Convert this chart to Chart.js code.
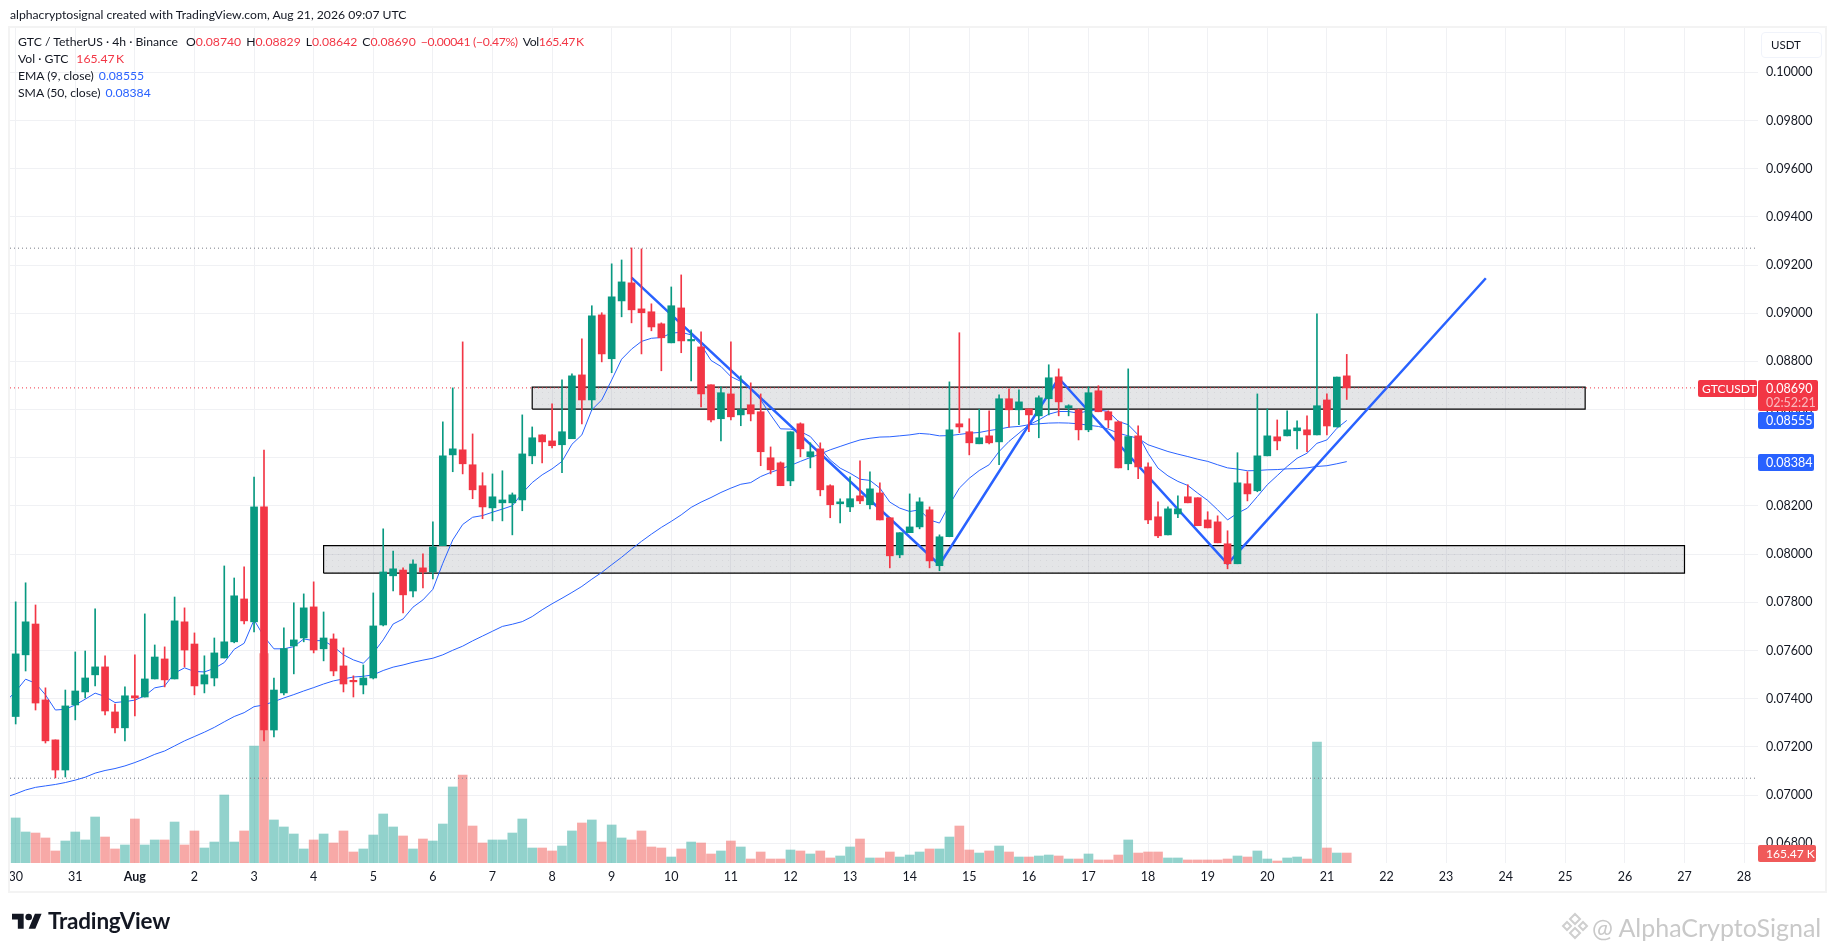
<!DOCTYPE html>
<html>
<head>
<meta charset="utf-8">
<title>GTC / TetherUS</title>
<script src="https://cdn.jsdelivr.net/npm/chart.js@4/dist/chart.umd.min.js"></script>
<style>
    html, body { margin: 0; background: #fff; overflow: hidden; }
    body { width: 1835px; height: 951px; position: relative; font-family: Lato, "Noto Sans", sans-serif; color: #131722; }
    canvas { position: absolute; left: 0; top: 0; }
    .frame { position: absolute; left: 8px; top: 26px; width: 1815px; height: 863px; border: 2px solid #f3f3f3; }
    .title { position: absolute; left: 10px; top: 7px; font-size: 12.2px; white-space: nowrap; }
    .legend { position: absolute; left: 18px; font-size: 12.2px; white-space: nowrap; }
    .legend span { margin-left: 5px; }
    .legend span.first { margin-left: 8px; }
    .legend span.tight { letter-spacing: -0.35px; }
    .legend b { font-weight: normal; color: #f23645; }
    .legend i { font-style: normal; color: #2962ff; }
    .usdt { position: absolute; left: 1761px; top: 32px; width: 59px; height: 24px; border: 1px solid #f0f3fa; border-radius: 4px; font-size: 11.5px; line-height: 24px; text-indent: 9px; }
    .logo { position: absolute; left: 12px; top: 910px; }
    .brand { position: absolute; left: 48px; top: 907px; font-size: 22.5px; font-weight: 700; letter-spacing: -0.2px; }
    .mark { position: absolute; left: 1561px; top: 912px; }
    .signal { position: absolute; left: 1592px; top: 912px; font-size: 25px; color: #c9c9c9; white-space: nowrap; }
</style>
</head>
<body>
<canvas id="chart" width="1835" height="951"></canvas>
<div class="frame"></div>
<div class="title">alphacryptosignal created with TradingView.com, Aug 21, 2026 09:07 UTC</div>
<div class="legend" style="top:34px">GTC / TetherUS · 4h · Binance<span class="first">O<b>0.08740</b></span><span>H<b>0.08829</b></span><span>L<b>0.08642</b></span><span>C<b>0.08690</b></span><span class="tight"><b>−0.00041 (−0.47%)</b></span><span class="tight">Vol<b>165.47&#8201;K</b></span></div>
<div class="legend" style="top:51px">Vol · GTC<span class="first"><b>165.47&#8201;K</b></span></div>
<div class="legend" style="top:68px">EMA (9, close)<span><i>0.08555</i></span></div>
<div class="legend" style="top:85px">SMA (50, close)<span><i>0.08384</i></span></div>
<div class="usdt">USDT</div>
<svg class="logo" width="30" height="24" viewBox="0 0 36 28"><path fill="#131722" d="M14 22H7V11H0V4h14v18zM28 22h-8l7.5-18h8L28 22z"/><circle fill="#131722" cx="20" cy="8" r="4"/></svg>
<div class="brand">TradingView</div>
<svg class="mark" width="28" height="28" viewBox="0 0 28 28" fill="none" stroke="#cfcfcf" stroke-width="2"><path d="M14 2l5 5-5 5-5-5zM6 10l4 4-4 4-4-4zM22 10l4 4-4 4-4-4zM14 16l5 5-5 5-5-5z"/></svg>
<div class="signal">@ AlphaCryptoSignal</div>

<script>
// candles, 4h bars from Jul 30
const opens = [0.07326,0.07582,0.07710,0.07395,0.07229,0.07104,0.07374,0.07428,0.07499,0.07532,0.07345,0.07279,0.07412,0.07407,0.07482,0.07565,0.07482,0.07719,0.07627,0.07461,0.07486,0.07569,0.07636,0.07814,0.07719,0.08196,0.07270,0.07424,0.07619,0.07652,0.07781,0.07607,0.07648,0.07536,0.07474,0.07457,0.07486,0.07706,0.07910,0.07934,0.07847,0.07943,0.07926,0.08035,0.08412,0.08433,0.08371,0.08284,0.08192,0.08213,0.08213,0.08225,0.08408,0.08495,0.08470,0.08454,0.08479,0.08744,0.08640,0.08993,0.08811,0.09051,0.09126,0.09018,0.09006,0.08956,0.08877,0.09022,0.08885,0.08860,0.08703,0.08562,0.08665,0.08578,0.08620,0.08591,0.08400,0.08379,0.08304,0.08541,0.08404,0.08437,0.08284,0.08209,0.08196,0.08242,0.08205,0.08254,0.08151,0.07997,0.08089,0.08113,0.08184,0.07952,0.08072,0.08541,0.08508,0.08458,0.08491,0.08466,0.08645,0.08599,0.08603,0.08574,0.08645,0.08736,0.08607,0.08599,0.08516,0.08678,0.08591,0.08549,0.08375,0.08491,0.08362,0.08155,0.08080,0.08167,0.08238,0.08234,0.08142,0.08134,0.08043,0.07960,0.08292,0.08263,0.08408,0.08487,0.08491,0.08512,0.08516,0.08495,0.08640,0.08528,0.08740];
const highs = [0.07802,0.07881,0.07789,0.07445,0.07229,0.07436,0.07594,0.07598,0.07773,0.07578,0.07378,0.07449,0.07582,0.07752,0.07623,0.07615,0.07822,0.07777,0.07673,0.07578,0.07652,0.07951,0.07901,0.07947,0.08320,0.08432,0.07486,0.07694,0.07798,0.07835,0.07885,0.07760,0.07669,0.07611,0.07495,0.07540,0.07839,0.08105,0.08013,0.07943,0.07976,0.08001,0.08134,0.08549,0.08690,0.08881,0.08499,0.08338,0.08333,0.08346,0.08254,0.08578,0.08528,0.08495,0.08624,0.08723,0.08748,0.08894,0.09031,0.09002,0.09205,0.09221,0.09271,0.09267,0.09039,0.08960,0.09109,0.09159,0.08931,0.08923,0.08703,0.08694,0.08881,0.08740,0.08711,0.08665,0.08445,0.08383,0.08508,0.08545,0.08462,0.08462,0.08288,0.08230,0.08321,0.08387,0.08342,0.08296,0.08151,0.08089,0.08250,0.08234,0.08196,0.08080,0.08715,0.08919,0.08562,0.08602,0.08595,0.08661,0.08686,0.08682,0.08603,0.08657,0.08786,0.08769,0.08620,0.08603,0.08694,0.08699,0.08595,0.08553,0.08769,0.08533,0.08379,0.08217,0.08196,0.08242,0.08288,0.08234,0.08176,0.08159,0.08097,0.08421,0.08342,0.08665,0.08603,0.08557,0.08595,0.08553,0.08574,0.08997,0.08665,0.08735,0.08829];
const lows = [0.07295,0.07515,0.07353,0.07216,0.07071,0.07075,0.07312,0.07403,0.07453,0.07333,0.07258,0.07225,0.07329,0.07407,0.07482,0.07449,0.07482,0.07532,0.07416,0.07424,0.07453,0.07569,0.07632,0.07710,0.07677,0.07225,0.07241,0.07416,0.07503,0.07636,0.07590,0.07557,0.07495,0.07428,0.07407,0.07420,0.07482,0.07702,0.07847,0.07756,0.07822,0.07860,0.07897,0.08035,0.08342,0.08333,0.08230,0.08147,0.08138,0.08138,0.08080,0.08180,0.08375,0.08379,0.08441,0.08338,0.08479,0.08541,0.08599,0.08798,0.08753,0.08985,0.08960,0.08831,0.08927,0.08761,0.08877,0.08836,0.08719,0.08611,0.08549,0.08470,0.08557,0.08533,0.08553,0.08367,0.08333,0.08284,0.08284,0.08404,0.08358,0.08242,0.08151,0.08130,0.08176,0.08209,0.08188,0.08142,0.07943,0.07985,0.08089,0.08105,0.07943,0.07931,0.08072,0.08504,0.08412,0.08458,0.08458,0.08371,0.08527,0.08537,0.08508,0.08483,0.08578,0.08574,0.08574,0.08474,0.08508,0.08591,0.08524,0.08358,0.08350,0.08313,0.08126,0.08068,0.08080,0.08151,0.08213,0.08118,0.08109,0.08047,0.07939,0.07960,0.08221,0.08259,0.08408,0.08433,0.08491,0.08437,0.08425,0.08495,0.08495,0.08528,0.08642];
const closes = [0.07586,0.07719,0.07382,0.07225,0.07104,0.07370,0.07432,0.07486,0.07532,0.07349,0.07279,0.07412,0.07403,0.07482,0.07573,0.07478,0.07723,0.07602,0.07453,0.07499,0.07590,0.07636,0.07827,0.07723,0.08196,0.07270,0.07436,0.07608,0.07644,0.07777,0.07602,0.07652,0.07515,0.07461,0.07470,0.07486,0.07702,0.07926,0.07939,0.07831,0.07959,0.07926,0.08030,0.08408,0.08437,0.08375,0.08267,0.08196,0.08238,0.08225,0.08246,0.08416,0.08483,0.08466,0.08450,0.08508,0.08740,0.08640,0.08989,0.08831,0.09068,0.09130,0.09014,0.09002,0.08943,0.08898,0.09031,0.08885,0.08889,0.08665,0.08557,0.08670,0.08570,0.08599,0.08582,0.08425,0.08350,0.08284,0.08508,0.08437,0.08425,0.08267,0.08205,0.08217,0.08230,0.08221,0.08271,0.08142,0.07993,0.08089,0.08113,0.08217,0.07972,0.08072,0.08516,0.08528,0.08462,0.08483,0.08462,0.08645,0.08599,0.08632,0.08578,0.08649,0.08732,0.08632,0.08616,0.08516,0.08670,0.08591,0.08557,0.08358,0.08488,0.08362,0.08142,0.08076,0.08188,0.08188,0.08213,0.08118,0.08109,0.08047,0.07960,0.08296,0.08250,0.08408,0.08491,0.08470,0.08516,0.08524,0.08495,0.08616,0.08532,0.08735,0.08690];
// volume in thousands of GTC
const volumes = [745,513,496,414,199,364,513,381,761,430,232,298,728,298,381,381,678,298,530,248,347,1125,347,530,1936,3464,712,596,480,232,381,480,331,530,182,232,463,811,596,447,232,397,364,645,1258,1456,612,331,381,381,496,728,248,248,199,281,530,662,712,347,629,414,381,530,265,248,99,232,347,331,149,199,364,265,66,182,66,66,215,199,149,199,83,116,265,397,83,83,182,99,132,182,232,232,430,612,215,165,199,281,182,99,99,116,132,116,66,66,149,50,50,132,381,165,182,182,83,83,50,50,50,50,66,116,99,199,66,33,83,99,66,2002,248,165,165];
// moving averages, first value sits one bar before the first candle
const emaValues = [0.07388,0.07430,0.07481,0.07464,0.07416,0.07353,0.07356,0.07374,0.07398,0.07423,0.07409,0.07384,0.07388,0.07394,0.07412,0.07445,0.07453,0.07506,0.07528,0.07513,0.07511,0.07526,0.07550,0.07605,0.07630,0.07727,0.07658,0.07607,0.07607,0.07616,0.07648,0.07641,0.07641,0.07616,0.07582,0.07561,0.07547,0.07589,0.07644,0.07710,0.07731,0.07780,0.07810,0.07854,0.07962,0.08059,0.08123,0.08153,0.08160,0.08174,0.08187,0.08201,0.08253,0.08297,0.08329,0.08354,0.08385,0.08456,0.08495,0.08599,0.08640,0.08723,0.08809,0.08851,0.08883,0.08896,0.08899,0.08917,0.08921,0.08910,0.08869,0.08804,0.08779,0.08737,0.08717,0.08689,0.08640,0.08578,0.08520,0.08519,0.08509,0.08488,0.08440,0.08391,0.08357,0.08336,0.08311,0.08306,0.08274,0.08216,0.08191,0.08177,0.08184,0.08142,0.08129,0.08205,0.08274,0.08315,0.08347,0.08371,0.08426,0.08468,0.08502,0.08537,0.08557,0.08581,0.08592,0.08592,0.08585,0.08595,0.08599,0.08592,0.08551,0.08537,0.08495,0.08419,0.08357,0.08325,0.08302,0.08285,0.08253,0.08223,0.08184,0.08142,0.08170,0.08191,0.08239,0.08288,0.08326,0.08364,0.08398,0.08419,0.08460,0.08474,0.08522,0.08555];
const smaValues = [0.06991,0.07005,0.07021,0.07032,0.07038,0.07044,0.07052,0.07062,0.07074,0.07091,0.07102,0.07110,0.07121,0.07135,0.07151,0.07169,0.07183,0.07204,0.07225,0.07243,0.07261,0.07281,0.07304,0.07326,0.07342,0.07367,0.07374,0.07388,0.07403,0.07417,0.07432,0.07446,0.07461,0.07474,0.07482,0.07490,0.07493,0.07499,0.07517,0.07531,0.07540,0.07551,0.07560,0.07568,0.07582,0.07601,0.07618,0.07640,0.07660,0.07680,0.07700,0.07709,0.07720,0.07741,0.07769,0.07794,0.07817,0.07841,0.07866,0.07896,0.07924,0.07956,0.07987,0.08021,0.08053,0.08083,0.08111,0.08136,0.08163,0.08194,0.08216,0.08235,0.08256,0.08274,0.08290,0.08297,0.08322,0.08339,0.08354,0.08368,0.08385,0.08401,0.08416,0.08433,0.08447,0.08461,0.08474,0.08481,0.08486,0.08487,0.08491,0.08495,0.08501,0.08498,0.08491,0.08492,0.08497,0.08502,0.08505,0.08513,0.08519,0.08527,0.08530,0.08537,0.08541,0.08544,0.08545,0.08544,0.08541,0.08535,0.08530,0.08519,0.08502,0.08491,0.08481,0.08454,0.08440,0.08426,0.08415,0.08405,0.08394,0.08385,0.08371,0.08358,0.08353,0.08346,0.08347,0.08350,0.08351,0.08354,0.08355,0.08358,0.08364,0.08367,0.08375,0.08384];
const dayLabels = ['30','31','Aug','2','3','4','5','6','7','8','9','10','11','12','13','14','15','16','17','18','19','20','21','22','23','24','25','26','27','28'];

// hand drawn objects, bar index / price
const upperBoxX = [52, 158];
const upperBoxY = [0.08602, 0.08693];
const lowerBoxX = [31, 168];
const lowerBoxY = [0.07921, 0.08035];
const trendX = [62, 93, 105, 122, 148];
const trendY = [0.09148, 0.07956, 0.08730, 0.07960, 0.09145];
const rangeHigh = 0.09270;
const rangeLow = 0.07070;
const lastPrice = 0.08690;
const lastEma = 0.08555;
const lastSma = 0.08384;
const lastVolume = 165.47;
const hiddenTick = 0.084; // TradingView drops this label under the SMA tag

const xMin = -0.57, xMax = 175.4;
const green = '#089981', red = '#f23645', blue = '#2962ff';
const isUp = i => closes[i] >= opens[i];
const candleColors = opens.map((o, i) => isUp(i) ? green : red);
const volumeColors = opens.map((o, i) => isUp(i) ? 'rgba(38,166,154,0.5)' : 'rgba(239,83,80,0.5)');

// light dotted texture of the rectangles
function boxPattern() {
    const c = document.createElement('canvas');
    c.width = 6;
    c.height = 6;
    const p = c.getContext('2d');
    p.fillStyle = 'rgba(120,123,134,0.2)';
    p.fillRect(0, 0, 6, 6);
    p.fillStyle = 'rgba(120,123,134,0.13)';
    p.fillRect(2, 2, 1, 1);
    return p.createPattern(c, 'repeat');
}
const boxTexture = boxPattern();

function flatLine(value, color, order) {
    return {
        type: 'line', order: order, data: [{ x: xMin, y: value }, { x: xMax, y: value }],
        borderColor: color, borderWidth: 1, borderDash: [1, 3], pointRadius: 0
    };
}
function boxFill(xs, ys) {
    return {
        type: 'line', order: 8, data: [{ x: xs[0], y: ys[1] }, { x: xs[1], y: ys[1] }],
        borderWidth: 0, pointRadius: 0, fill: { value: ys[0] }, backgroundColor: boxTexture
    };
}
function boxOutline(xs, ys) {
    return {
        type: 'line', order: 7,
        data: [{ x: xs[0], y: ys[0] }, { x: xs[0], y: ys[1] }, { x: xs[1], y: ys[1] }, { x: xs[1], y: ys[0] }, { x: xs[0], y: ys[0] }],
        borderColor: '#000', borderWidth: 1.2, pointRadius: 0
    };
}
function tag(ctx, x, y, w, h, color) {
    ctx.fillStyle = color;
    ctx.beginPath();
    ctx.roundRect(x, y, w, h, 2);
    ctx.fill();
}

// labels sitting on the price axis
const axisTags = {
    id: 'axisTags',
    afterDraw(chart) {
        const ctx = chart.ctx, y = chart.scales.y, v = chart.scales.volume;
        ctx.save();
        ctx.textBaseline = 'middle';
        ctx.textAlign = 'left';
        ctx.font = '12px Lato';
        const py = Math.round(y.getPixelForValue(lastPrice));
        tag(ctx, 1698, py - 8, 59, 17, red);
        tag(ctx, 1758, py - 8, 60, 31, red);
        ctx.fillStyle = '#fff';
        ctx.fillText('GTCUSDT', 1702, py + 1);
        ctx.font = '12.5px Lato';
        ctx.fillText('0.08690', 1766, py + 1);
        ctx.fillStyle = 'rgba(255,255,255,0.65)';
        ctx.fillText('02:52:21', 1766, py + 15);
        [lastEma, lastSma].forEach(val => {
            const p = Math.round(y.getPixelForValue(val));
            tag(ctx, 1758, p - 8, 56, 17, blue);
            ctx.fillStyle = '#fff';
            ctx.fillText(val.toFixed(5), 1766, p + 1);
        });
        const pv = Math.round(v.getPixelForValue(lastVolume));
        ctx.font = '12px Lato';
        tag(ctx, 1758, pv - 8, 58, 17, '#f05a5a');
        ctx.fillStyle = '#fff';
        ctx.fillText('165.47 K', 1766, pv + 1);
        ctx.restore();
    }
};

new Chart(document.getElementById('chart'), {
    type: 'bar',
    data: {
        datasets: [
            { order: 1, data: opens.map((o, i) => ({ x: i, y: [o, closes[i]] })), backgroundColor: candleColors, barThickness: 7, minBarLength: 1.5 },
            { order: 2, data: lows.map((l, i) => ({ x: i, y: [l, highs[i]] })), backgroundColor: candleColors, barThickness: 1 },
            flatLine(lastPrice, red, 3),
            boxOutline(upperBoxX, upperBoxY),
            boxOutline(lowerBoxX, lowerBoxY),
            boxFill(upperBoxX, upperBoxY),
            boxFill(lowerBoxX, lowerBoxY),
            { type: 'line', order: 4, data: trendX.map((x, i) => ({ x: x, y: trendY[i] })), borderColor: blue, borderWidth: 2.5, pointRadius: 0 },
            { type: 'line', order: 5, data: emaValues.map((e, i) => ({ x: i - 1, y: e })), borderColor: blue, borderWidth: 1, pointRadius: 0 },
            { type: 'line', order: 5, data: smaValues.map((s, i) => ({ x: i - 1, y: s })), borderColor: blue, borderWidth: 1, pointRadius: 0 },
            flatLine(rangeHigh, '#787b86', 6),
            flatLine(rangeLow, '#787b86', 6),
            { order: 9, yAxisID: 'volume', data: volumes.map((v, i) => ({ x: i, y: v })), backgroundColor: volumeColors, barThickness: 9 }
        ]
    },
    options: {
        responsive: false,
        animation: false,
        events: [],
        layout: { padding: { left: 10, top: 27, right: 0, bottom: 0 } },
        datasets: { bar: { grouped: false, borderWidth: 0 } },
        plugins: { legend: { display: false }, tooltip: { enabled: false } },
        scales: {
            x: {
                type: 'linear', min: xMin, max: xMax, offset: false,
                grid: { color: '#f0f1f4', offset: false, drawTicks: false },
                border: { display: false },
                afterBuildTicks: s => { s.ticks = s.ticks.filter(t => t.value >= s.min && t.value <= s.max); },
                afterFit: s => { s.height = 88; s.paddingLeft = 0; s.paddingRight = 0; },
                ticks: {
                    stepSize: 6, includeBounds: false, autoSkip: false, maxRotation: 0, padding: 6, color: '#131722',
                    font: ctx => ({ family: 'Lato', size: 12.5, weight: ctx.tick && ctx.tick.value === 12 ? 'bold' : 'normal' }),
                    callback: v => dayLabels[v / 6]
                }
            },
            y: {
                position: 'right', min: 0.06718, max: 0.10188,
                grid: { color: '#f0f1f4', drawTicks: false },
                border: { display: false },
                afterBuildTicks: s => { s.ticks = s.ticks.filter(t => t.value >= s.min && t.value <= s.max); },
                afterFit: s => { s.width = 77; s.paddingTop = 0; s.paddingBottom = 0; },
                ticks: {
                    stepSize: 0.002, includeBounds: false, padding: 8, color: '#131722',
                    font: { family: 'Lato', size: 12.5 },
                    callback: v => v === hiddenTick ? '' : v.toFixed(5)
                }
            },
            volume: { display: false, min: 0, max: 13833 }
        }
    },
    plugins: [axisTags]
});
</script>
</body>
</html>
